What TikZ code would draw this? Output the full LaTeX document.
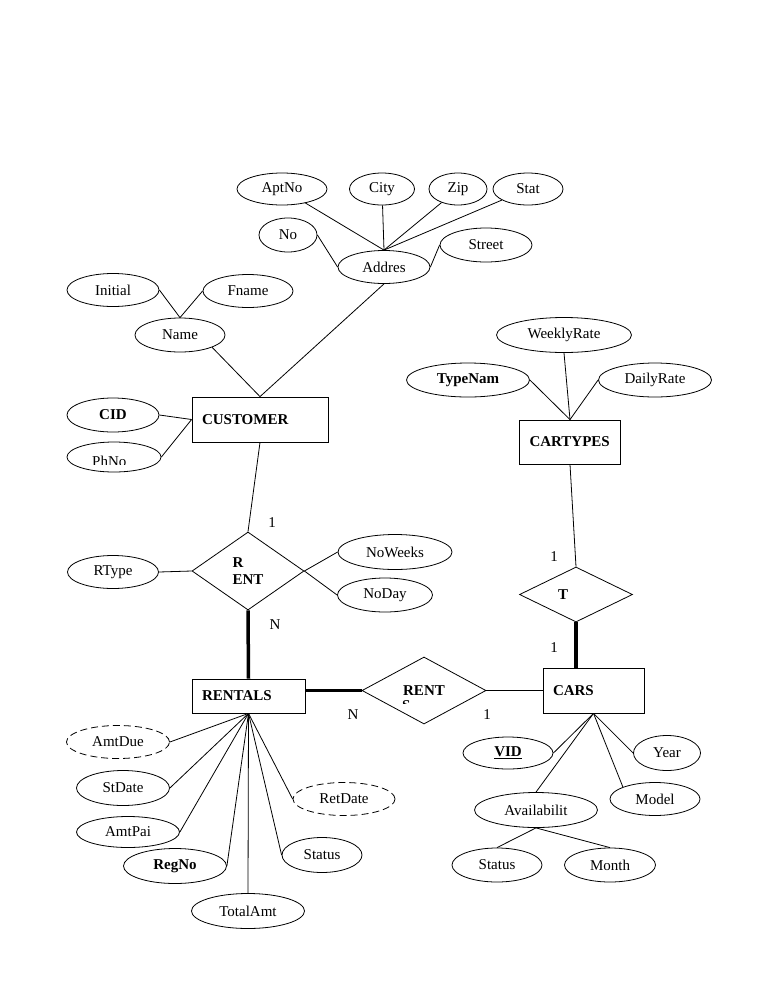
\documentclass[tikz,border=0pt]{standalone}
\usepackage{fontspec}
\setmainfont{Liberation Serif}
\usetikzlibrary{shapes.geometric}

\begin{document}
\begin{tikzpicture}[x=1pt,y=1pt]
\tikzstyle{every node}+=[inner sep=0pt,font=\fontsize{15}{17}\selectfont]
\tikzstyle{attr}=[draw,ellipse,line width=0.8]
\tikzstyle{derived}=[attr,dash pattern=on 7pt off 4pt]
\tikzstyle{entity}=[draw,rectangle,line width=0.8,inner xsep=10,align=left,font=\fontsize{15}{17}\selectfont\bfseries]
\tikzstyle{relation}=[draw,diamond,line width=0.8,align=left,font=\fontsize{15}{17}\selectfont\bfseries]
\tikzstyle{link}=[line width=0.8]
\tikzstyle{total}=[line width=3.5]
\useasboundingbox (0,0) rectangle (768,-994);
% customer side
\node [attr,minimum width=90,minimum height=32] (aptno) at (282,-189) {AptNo};
\node [attr,minimum width=65,minimum height=32] (city) at (382,-189) {City};
\node [attr,minimum width=58,minimum height=32] (zip) at (458,-189) {Zip};
\node [attr,minimum width=70,minimum height=32] (stat) at (528,-189) {Stat};
\node [attr,minimum width=58,minimum height=34] (no) at (288,-235) {No};
\node [attr,minimum width=92,minimum height=34] (street) at (486,-245) {Street};
\node [attr,minimum width=92,minimum height=33] (addres) at (384,-267) {Addres};
\node [attr,minimum width=92,minimum height=33] (initial) at (113,-290) {Initial};
\node [attr,minimum width=90,minimum height=33] (fname) at (248,-291) {Fname};
\node [attr,minimum width=90,minimum height=34] (name) at (180,-335) {Name};
\node [entity,text width=116,minimum height=45] (customer) at (260,-419.5) {CUSTOMER};
\node [attr,minimum width=92,minimum height=34] (cid) at (113,-415) {\textbf{CID}};
\node [attr,minimum width=94,minimum height=30] (phno) at (114,-457) {};
\begin{scope}
\clip (80,-450) rectangle (140,-464.5);
\node [anchor=base west] (phnotext) at (92,-466) {PhNo};
\end{scope}
% cartypes side
\node [attr,minimum width=135,minimum height=35] (weekly) at (564,-335) {WeeklyRate};
\node [attr,minimum width=123,minimum height=34] (typenam) at (468,-380) {\textbf{TypeNam}};
\node [attr,minimum width=113,minimum height=34] (daily) at (655,-380) {DailyRate};
\node [entity,text width=81,minimum height=44] (cartypes) at (570,-442) {CARTYPES};
\node [relation,text width=36,minimum width=113,minimum height=55] (t) at (576,-594.5) {T};
% rent relationship
\node [relation,minimum width=112,minimum height=78] (rent) at (248,-571) {R\\ENT};
\node [attr,minimum width=91,minimum height=33] (rtype) at (113,-572) {RType};
\node [attr,minimum width=114,minimum height=35] (noweeks) at (395,-552) {NoWeeks};
\node [attr,minimum width=95,minimum height=34] (noday) at (385,-595) {NoDay};
% rentals and cars
\node [entity,text width=93,minimum height=34] (rentals) at (248.5,-696) {RENTALS};
\node [relation,minimum width=124,minimum height=67] (rents) at (424,-690.5) {RENT};
\begin{scope}
\clip (395,-699) rectangle (450,-703.5);
\node [anchor=base west,font=\fontsize{15}{17}\selectfont\bfseries] (rentss) at (402,-710) {S};
\end{scope}
\node [entity,text width=81,minimum height=45] (cars) at (593.5,-690.5) {CARS};
\node [derived,minimum width=103,minimum height=33] (amtdue) at (118,-742) {AmtDue};
\node [attr,minimum width=93,minimum height=35] (stdate) at (123,-788) {StDate};
\node [attr,minimum width=103,minimum height=31] (amtpai) at (128,-832) {AmtPai};
\node [attr,minimum width=103,minimum height=35] (regno) at (175,-866) {\textbf{RegNo}};
\node [attr,minimum width=113,minimum height=35] (totalamt) at (248,-911) {TotalAmt};
\node [attr,minimum width=80,minimum height=35] (status) at (322,-855) {Status};
\node [derived,minimum width=102,minimum height=33] (retdate) at (344,-799) {RetDate};
\node [attr,minimum width=90,minimum height=32] (vid) at (508,-753) {\underline{\textbf{VID}}};
\node [attr,minimum width=67,minimum height=35] (year) at (667,-753) {Year};
\node [attr,minimum width=90,minimum height=33] (model) at (655,-799) {Model};
\node [attr,minimum width=123,minimum height=35] (avail) at (536,-810) {Availabilit};
\node [attr,minimum width=90,minimum height=34] (avstatus) at (497,-865) {Status};
\node [attr,minimum width=91,minimum height=34] (month) at (610,-865) {Month};
% cardinalities
\node (card1) at (272,-523) {1};
\node (cardn) at (275,-625) {N};
\node (cardt1) at (554,-557) {1};
\node (cardt2) at (554,-648) {1};
\node (cardrn) at (353,-715) {N};
\node (cardr1) at (487,-715) {1};
% connectors
\draw [link] (aptno) -- (addres.north);
\draw [link] (city) -- (addres.north);
\draw [link] (zip) -- (addres.north);
\draw [link] (stat) -- (addres.north);
\draw [link] (no.east) -- (addres.west);
\draw [link] (street.west) -- (addres.east);
\draw [link] (addres.south) -- (customer.north);
\draw [link] (initial.east) -- (name.north);
\draw [link] (fname.west) -- (name.north);
\draw [link] (name.south east) -- (customer.north);
\draw [link] (cid.east) -- (customer.west);
\draw [link] (phno.east) -- (customer.west);
\draw [link] (customer.south) -- (rent.north);
\draw [link] (weekly.south) -- (cartypes.north);
\draw [link] (typenam.east) -- (cartypes.north);
\draw [link] (daily.west) -- (cartypes.north);
\draw [link] (cartypes.south) -- (t.north);
\draw [total] (t.south) -- (t.south |- cars.north);
\draw [link] (rtype.east) -- (rent.west);
\draw [link] (noweeks.west) -- (rent.east);
\draw [link] (noday.west) -- (rent.east);
\draw [total] (rent.south) -- (rentals.north);
\draw [total] (rentals.east |- rents.west) -- (rents.west);
\draw [link] (rents.east) -- (cars.west);
\draw [link] (amtdue.east) -- (rentals.south);
\draw [link] (stdate.east) -- (rentals.south);
\draw [link] (amtpai.east) -- (rentals.south);
\draw [link] (regno.east) -- (rentals.south);
\draw [link] (totalamt.north) -- (rentals.south);
\draw [link] (status.west) -- (rentals.south);
\draw [link] (retdate.west) -- (rentals.south);
\draw [link] (vid.east) -- (cars.south);
\draw [link] (year.west) -- (cars.south);
\draw [link] (model.north west) -- (cars.south);
\draw [link] (avail.north) -- (cars.south);
\draw [link] (avail.south) -- (avstatus.north);
\draw [link] (avail.south) -- (month.north);
\end{tikzpicture}
\end{document}
